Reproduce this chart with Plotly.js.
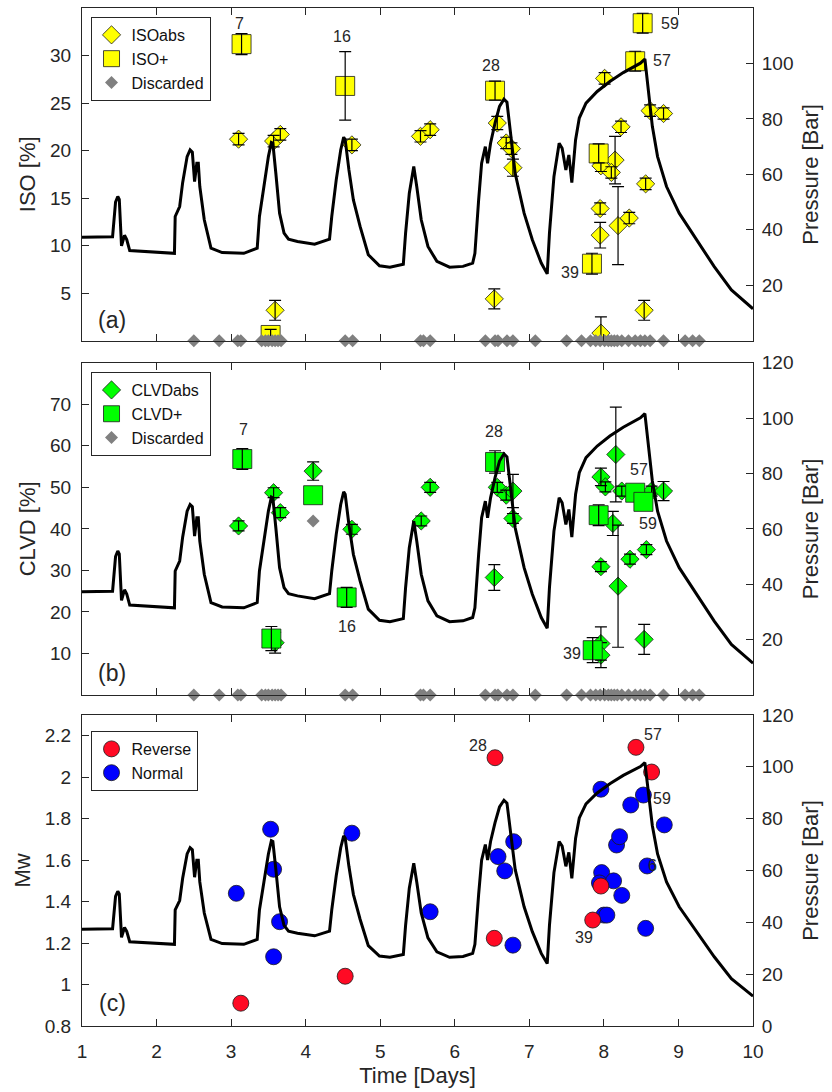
<!DOCTYPE html>
<html><head><meta charset="utf-8">
<script src="https://cdn.plot.ly/plotly-3.0.1.min.js"></script>
<style>body{margin:0;background:#fff}#chart{width:832px;height:1092px}</style>
</head><body><div id="chart"></div>
<script>
// ---------------- DATA ----------------
// Injection pressure curve (Bar) vs time (days)
const pressureDays = [1.00,1.41,1.45,1.48,1.50,1.53,1.57,1.60,1.64,2.24,2.25,2.31,2.35,2.41,2.45,2.48,2.51,2.54,2.56,2.58,2.64,2.73,2.88,3.17,3.35,3.38,3.44,3.50,3.54,3.56,3.60,3.65,3.71,3.77,3.89,4.12,4.32,4.35,4.41,4.47,4.51,4.53,4.58,4.64,4.73,4.84,4.99,5.13,5.31,5.34,5.39,5.45,5.49,5.55,5.64,5.76,5.93,6.11,6.24,6.27,6.32,6.36,6.41,6.44,6.48,6.54,6.60,6.66,6.70,6.75,6.81,6.93,7.04,7.16,7.24,7.27,7.33,7.40,7.44,7.49,7.53,7.57,7.62,7.67,7.76,7.91,8.08,8.26,8.37,8.49,8.55,8.60,8.65,8.72,8.84,9.01,9.24,9.48,9.71,10.0];
const pressureBar = [37.3,37.5,50.0,52.0,51.0,34.2,38.0,36.5,32.5,31.5,44.8,48.4,57.0,66.4,68.8,68.0,57.4,64.0,64.0,55.6,43.6,33.4,31.8,31.5,33.4,44.8,55.6,66.4,71.5,71.2,60.4,46.0,38.8,36.6,35.8,34.8,36.6,44.8,58.0,68.8,73.4,72.5,61.6,50.8,41.2,31.0,27.0,26.5,27.6,38.7,53.2,62.8,55.6,43.6,34.0,28.6,26.5,26.8,28.0,31.5,50.8,64.0,70.0,64.0,71.2,78.5,84.5,87.1,86.0,74.9,60.4,46.0,36.4,28.0,24.1,38.8,59.2,71.2,69.4,61.6,67.0,57.0,72.4,80.3,85.7,89.9,93.5,96.7,98.3,100.1,101.6,89.3,77.3,66.4,55.6,46.0,36.4,26.7,18.3,11.5];

// Panel (a): ISO
const isoAbsDays = [3.10,3.57,3.66,3.59,4.62,5.54,5.67,6.57,6.69,6.76,6.78,6.53,8.01,8.62,8.80,8.23,8.15,7.96,8.10,8.56,7.95,8.34,8.19,7.95,8.54,7.96];
const isoAbsVal  = [21.2,21.0,21.7,3.2,20.6,21.5,22.2,22.9,20.8,20.2,18.2,4.4,27.6,24.2,23.9,22.5,19.0,18.4,17.7,16.5,13.9,12.9,12.1,11.1,3.2,0.8];
const isoAbsErr  = [0.6,0.6,0.6,1.05,0.6,0.6,0.6,0.7,0.6,0.6,0.9,1.05,0.6,0.6,0.6,0.6,2.5,0.6,0.6,0.6,0.6,0.6,4.1,1.35,1.05,1.7];
const isoPlusDays = [3.14,3.53,4.53,6.54,7.84,7.93,8.42,8.52];
const isoPlusVal  = [31.2,0.6,26.8,26.3,8.1,19.7,29.4,33.4];
const isoPlusErr  = [1.1,0.6,3.6,1.0,1.1,1.0,1.05,1.05];
const isoPlusLabels = ['7','','16','28','39','','57','59'];

// Discarded events (shown on the lower edge)
const discardedDays = [2.50,2.84,3.09,3.13,3.41,3.46,3.50,3.55,3.59,3.63,3.67,4.53,4.63,5.54,5.58,5.67,6.41,6.54,6.58,6.70,6.78,7.08,7.50,7.70,7.82,7.89,7.95,8.01,8.06,8.10,8.14,8.18,8.24,8.33,8.42,8.49,8.55,8.62,8.80,9.09,9.19,9.28];
const discardedIso  = [0,0,0,0,0,0,0,0,0,0,0,0,0,0,0,0,0,0,0,0,0,0,0,0,0,0,0,0,0,0,0,0,0,0,0,0,0,0,0,0,0,0];
const discardedDaysB = [2.50,2.84,3.09,3.13,3.41,3.46,3.50,3.55,3.59,3.63,3.67,4.10,4.53,4.63,5.54,5.58,5.67,6.41,6.54,6.58,6.70,6.78,7.08,7.50,7.70,7.82,7.89,7.95,8.01,8.06,8.10,8.14,8.18,8.24,8.33,8.42,8.49,8.55,8.62,8.80,9.09,9.19,9.28];
const discardedClvd  = [0,0,0,0,0,0,0,0,0,0,0,41.9,0,0,0,0,0,0,0,0,0,0,0,0,0,0,0,0,0,0,0,0,0,0,0,0,0,0,0,0,0,0,0];

// Panel (b): CLVD
const clvdAbsDays = [3.10,3.57,3.66,4.10,3.59,4.62,5.55,5.67,6.57,6.69,6.78,6.78,6.53,7.96,8.02,8.16,8.24,8.64,8.80,8.12,7.96,8.35,8.57,8.19,8.54,7.96,7.96];
const clvdAbsVal  = [40.7,48.7,43.9,53.9,12.6,39.9,41.9,50.0,50.0,48.1,49.1,42.5,28.3,52.5,50.1,57.9,49.1,49.1,49.1,41.3,30.9,32.7,35.0,26.2,13.4,12.4,9.6];
const clvdAbsErr  = [1.2,1.2,1.2,2.2,2.5,1.2,1.2,1.2,1.2,1.2,4.0,1.2,3.1,2.1,1.2,11.4,1.2,1.2,2.3,2.9,1.2,1.2,1.2,14.7,3.6,4.0,3.0];
const clvdPlusDays = [3.15,3.54,4.10,4.55,6.54,7.85,7.93,8.42,8.53];
const clvdPlusVal  = [56.8,13.6,48.1,23.5,56.1,10.8,43.3,48.7,46.5];
const clvdPlusErr  = [2.5,2.9,0,2.4,2.7,3.0,2.5,0,0];
const clvdPlusLabels = ['7','','','16','28','39','','57','59'];

// Panel (c): Mw
const reverseDays = [3.13,4.53,6.54,6.53,8.43,8.64,7.96,7.85];
const reverseMw   = [0.91,1.04,2.094,1.223,2.144,2.025,1.475,1.311];
const reverseLabels = ['','','28','','57','','','39'];
const normalDays = [3.07,3.53,3.57,3.65,3.57,4.62,5.67,6.58,6.67,6.79,6.78,7.96,7.97,7.94,8.13,8.24,8.00,8.04,8.17,8.21,8.36,8.53,8.81,8.58,8.56];
const normalMw   = [1.44,1.749,1.556,1.303,1.134,1.73,1.351,1.617,1.548,1.689,1.19,1.942,1.54,1.49,1.50,1.43,1.335,1.335,1.673,1.713,1.866,1.914,1.77,1.572,1.271];
const normalLabels = ['','','','','','','','','','','','','','','','','','','','','','59','','6',''];

const xTicks = [1,2,3,4,5,6,7,8,9,10];
const isoTicks = [5,10,15,20,25,30];
const clvdTicks = [10,20,30,40,50,60,70];
const mwTicks = [0.8,1,1.2,1.4,1.6,1.8,2,2.2];
const presTicksA = [20,40,60,80,100];
const presTicksB = [20,40,60,80,100,120];
const presTicksC = [0,20,40,60,80,100,120];

// ---------------- STYLE ----------------
const FONT = '"Liberation Sans", Arial, Helvetica, sans-serif';
const INK = '#262626';
const YELLOW = '#ffff00', GREEN = '#00ff00', RED = '#ff0a24', BLUE = '#0000ff', GRAY = '#808080';
const labelOffsets = {
  a: {'7':[-2,21],'16':[-3,49],'28':[-4,25],'39':[-22,-9],'57':[27,1],'59':[27,0]},
  b: {'7':[1,30],'16':[0,-29],'28':[-1,30],'39':[-21,-3],'57':[4,23],'59':[5,-22]},
  c: {'28':[-17,12],'57':[17,13],'59':[19,-3],'39':[-9,-17],'6':[5,0]}
};

function errTrace(x, y, err, xa, ya) {
  const idx = err.map((e,i)=>e>0?i:-1).filter(i=>i>=0);
  return {x: idx.map(i=>x[i]), y: idx.map(i=>y[i]), type:'scatter', mode:'markers',
    xaxis:xa, yaxis:ya, showlegend:false, hoverinfo:'skip',
    marker:{size:1, color:'rgba(0,0,0,0)'},
    error_y:{type:'data', array: idx.map(i=>err[i]), visible:true, color:'#000', thickness:1.2, width:6}};
}
function markerTrace(x, y, xa, ya, symbol, size, color, name, legend, show) {
  return {x, y, type:'scatter', mode:'markers', xaxis:xa, yaxis:ya, name, legend,
    showlegend: show, hoverinfo:'skip',
    marker:{symbol, size, color, line:{color:'#1a1a1a', width:0.8}}};
}
function pressureTrace(xa, ya) {
  return {x: pressureDays, y: pressureBar, type:'scatter', mode:'lines', xaxis:xa, yaxis:ya,
    showlegend:false, hoverinfo:'skip', line:{color:'#000', width:3}};
}
function discardedTrace(x, y, xa, ya, legend) {
  return {x, y, type:'scatter', mode:'markers', xaxis:xa, yaxis:ya, name:'Discarded', legend,
    cliponaxis:false, hoverinfo:'skip', marker:{symbol:'diamond', size:10, color:GRAY}};
}

const traces = [
  markerTrace(isoAbsDays, isoAbsVal, 'x', 'y', 'diamond', 14, YELLOW, 'ISOabs', 'legend', true),
  errTrace(isoAbsDays, isoAbsVal, isoAbsErr, 'x', 'y'),
  markerTrace(isoPlusDays, isoPlusVal, 'x', 'y', 'square', 19, YELLOW, 'ISO+', 'legend', true),
  errTrace(isoPlusDays, isoPlusVal, isoPlusErr, 'x', 'y'),
  discardedTrace(discardedDays, discardedIso, 'x', 'y', 'legend'),
  pressureTrace('x', 'y2'),

  markerTrace(clvdAbsDays, clvdAbsVal, 'x2', 'y3', 'diamond', 14, GREEN, 'CLVDabs', 'legend2', true),
  errTrace(clvdAbsDays, clvdAbsVal, clvdAbsErr, 'x2', 'y3'),
  markerTrace(clvdPlusDays, clvdPlusVal, 'x2', 'y3', 'square', 19, GREEN, 'CLVD+', 'legend2', true),
  errTrace(clvdPlusDays, clvdPlusVal, clvdPlusErr, 'x2', 'y3'),
  discardedTrace(discardedDaysB, discardedClvd, 'x2', 'y3', 'legend2'),
  pressureTrace('x2', 'y4'),

  markerTrace(normalDays, normalMw, 'x3', 'y5', 'circle', 16, BLUE, 'Normal', 'legend3', true),
  markerTrace(reverseDays, reverseMw, 'x3', 'y5', 'circle', 16, RED, 'Reverse', 'legend3', true),
  pressureTrace('x3', 'y6')
];

// ---------------- LAYOUT ----------------
const tickFont = {family: FONT, size: 19, color: INK};
const titleFont = {family: FONT, size: 22, color: INK};
function xAxis(anchor, labels) {
  const ax = {anchor, domain:[0,1], range:[1,10], tickvals:xTicks, ticks:'inside', ticklen:7, tickwidth:1,
    tickcolor:INK, showline:true, linecolor:INK, linewidth:1, mirror:'ticks', showgrid:false, zeroline:false,
    showticklabels:labels, tickfont:tickFont, ticklabelstandoff:8};
  if (labels) ax.title = {text:'Time [Days]', font:titleFont, standoff:6};
  return ax;
}
function leftAxis(anchor, domain, range, tickvals, title) {
  return {anchor, domain, range, tickvals, ticks:'inside', ticklen:7, tickwidth:1, tickcolor:INK,
    showline:true, linecolor:INK, linewidth:1, showgrid:false, zeroline:false, tickfont:tickFont,
    ticklabelstandoff:6, title:{text:title, font:titleFont, standoff:8}};
}
function rightAxis(anchor, overlay, tickvals) {
  return {anchor, overlaying:overlay, side:'right', range:[0,120], tickvals, ticks:'inside', ticklen:7,
    tickwidth:1, tickcolor:INK, showline:true, linecolor:INK, linewidth:1, showgrid:false, zeroline:false,
    tickfont:tickFont, ticklabelstandoff:4, title:{text:'Pressure [Bar]', font:titleFont, standoff:10}};
}
function legendBox(y) {
  return {x:0.0127, y, xanchor:'left', yanchor:'top', bgcolor:'#fff', bordercolor:INK, borderwidth:1,
    font:{family:FONT, size:16, color:'#111'}, itemwidth:30, tracegroupgap:0};
}

const annotations = [];
function addLabels(days, vals, labels, xr, yr, key) {
  labels.forEach((t,i) => {
    if (!t) return;
    const off = labelOffsets[key][t];
    annotations.push({x:days[i], y:vals[i], xref:xr, yref:yr, text:t, showarrow:false,
      xshift:off[0], yshift:off[1], font:{family:FONT, size:16, color:INK}});
  });
}
addLabels(isoPlusDays, isoPlusVal, isoPlusLabels, 'x', 'y', 'a');
addLabels(clvdPlusDays, clvdPlusVal, clvdPlusLabels, 'x2', 'y3', 'b');
addLabels(reverseDays, reverseMw, reverseLabels, 'x3', 'y5', 'c');
addLabels(normalDays, normalMw, normalLabels, 'x3', 'y5', 'c');
[['(a)','x domain','y domain',0.062],['(b)','x2 domain','y3 domain',0.065],['(c)','x3 domain','y5 domain',0.073]]
  .forEach(([t,xr,yr,yy]) => annotations.push({x:0.045, y:yy, xref:xr, yref:yr, text:t, showarrow:false,
    xanchor:'center', yanchor:'middle', font:{family:FONT, size:23, color:INK}}));

const layout = {
  width:832, height:1092, margin:{l:82, r:79, t:8, b:66},
  paper_bgcolor:'#fff', plot_bgcolor:'#fff', font:{family:FONT, color:INK},
  xaxis: xAxis('y', false),
  xaxis2: xAxis('y3', false),
  xaxis3: xAxis('y5', true),
  yaxis: leftAxis('x', [0.6732, 1.0], [0, 35], isoTicks, 'ISO [%]'),
  yaxis2: rightAxis('x', 'y', presTicksA),
  yaxis3: leftAxis('x2', [0.3251, 0.6516], [0, 80], clvdTicks, 'CLVD [%]'),
  yaxis4: rightAxis('x2', 'y3', presTicksB),
  yaxis5: leftAxis('x3', [0, 0.3055], [0.8, 2.3], mwTicks, 'Mw'),
  yaxis6: rightAxis('x3', 'y5', presTicksC),
  legend: legendBox(0.9912),
  legend2: legendBox(0.6424),
  legend3: Object.assign(legendBox(0.2898), {traceorder:'reversed'}),
  annotations
};

Plotly.newPlot('chart', traces, layout, {staticPlot:true, displayModeBar:false});
</script></body></html>
